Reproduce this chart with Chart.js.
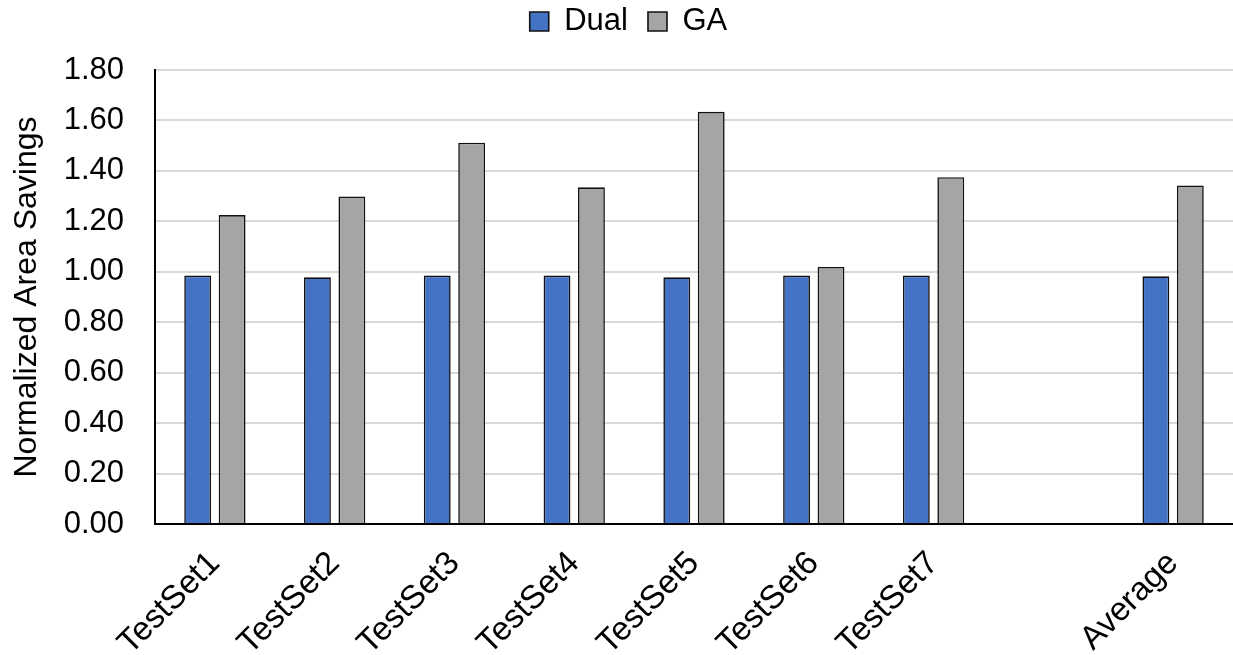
<!DOCTYPE html>
<html>
<head>
<meta charset="utf-8">
<script src="https://cdn.jsdelivr.net/npm/chart.js@4/dist/chart.umd.min.js"></script>
<style>
  html, body { margin: 0; padding: 0; background: #fff; }
  #wrap { width: 1233px; height: 655px; }
</style>
</head>
<body>
<div id="wrap"><canvas id="myChart" width="1233" height="655"></canvas></div>
<script>
"use strict";

// ========== DATA ==========
// empty slot between TestSet7 and Average
const categories = ["TestSet1", "TestSet2", "TestSet3", "TestSet4", "TestSet5", "TestSet6", "TestSet7", "", "Average"];
const dualValues = [0.985, 0.978, 0.985, 0.985, 0.978, 0.985, 0.985, null, 0.982];
const gaValues = [1.225, 1.298, 1.512, 1.335, 1.634, 1.019, 1.375, null, 1.342];
const yTicks = [0, 0.2, 0.4, 0.6, 0.8, 1.0, 1.2, 1.4, 1.6, 1.8];

const FONT = "'Liberation Sans', Arial, sans-serif";

Chart.defaults.font.family = FONT;
Chart.defaults.color = "#000";

// extra room under the legend, and nudge it a bit to the right
const legendTweak = {
  id: "legendTweak",
  beforeInit(chart) {
    const fit = chart.legend.fit;
    chart.legend.fit = function () {
      fit.call(this);
      this.height += 23;
    };
  },
  afterUpdate(chart) {
    chart.legend.left += 12;
    chart.legend.right += 12;
  }
};

const ctx = document.getElementById("myChart").getContext("2d");
new Chart(ctx, {
  type: "bar",
  data: {
    labels: categories,
    datasets: [
      {
        label: "Dual",
        data: dualValues,
        backgroundColor: "#4472c4",
        borderColor: "#111",
        borderWidth: 1.6,
        categoryPercentage: 0.575,
        barPercentage: 0.78
      },
      {
        label: "GA",
        data: gaValues,
        backgroundColor: "#a5a5a5",
        borderColor: "#111",
        borderWidth: 1.6,
        categoryPercentage: 0.575,
        barPercentage: 0.78
      }
    ]
  },
  plugins: [legendTweak],
  options: {
    responsive: false,
    animation: false,
    layout: { padding: { left: 0, right: 0, top: -14, bottom: 0 } },
    plugins: {
      legend: {
        display: true,
        position: "top",
        labels: {
          font: { size: 31 },
          boxWidth: 19,
          boxHeight: 19,
          padding: 20,
          useBorderRadius: false
        }
      },
      tooltip: { enabled: false }
    },
    scales: {
      x: {
        grid: { display: false, drawTicks: false },
        border: { display: true, color: "#000", width: 2 },
        ticks: {
          font: { size: 33 },
          maxRotation: 45,
          minRotation: 45,
          autoSkip: false,
          padding: 20
        },
        afterFit: scale => { scale.height = 131; }
      },
      y: {
        min: 0,
        max: 1.8,
        afterBuildTicks: scale => {
          scale.ticks = yTicks.map(v => ({ value: v }));
        },
        grid: { color: "#d9d9d9", lineWidth: 2, drawTicks: false },
        border: { display: true, color: "#000", width: 2 },
        ticks: {
          font: { size: 31 },
          padding: 31,
          callback: v => Number(v).toFixed(2)
        },
        title: {
          display: true,
          text: "Normalized Area Savings",
          font: { size: 32 },
          padding: { top: 8, bottom: 0 }
        },
        afterFit: scale => { scale.width = 155; }
      }
    }
  }
});
</script>
</body>
</html>
